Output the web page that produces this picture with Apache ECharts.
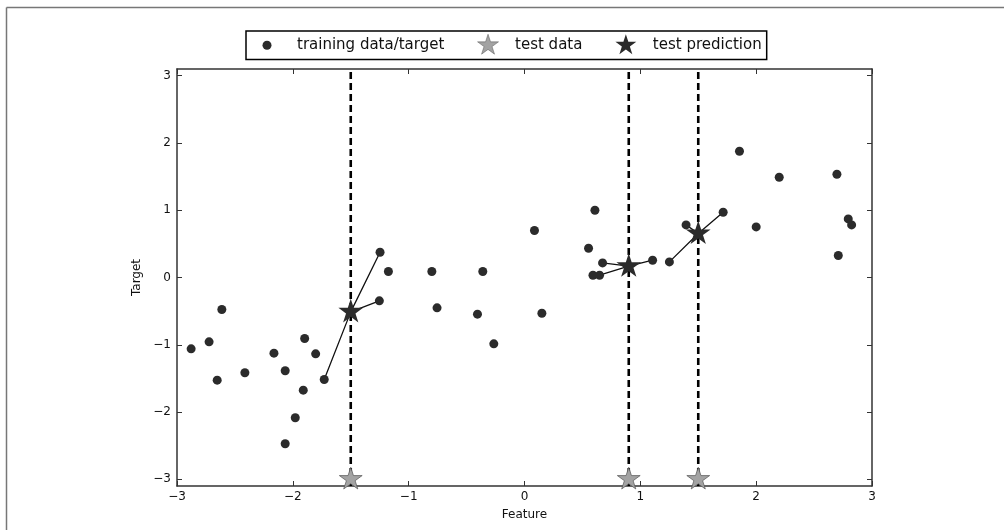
<!DOCTYPE html>
<html>
<head>
<meta charset="utf-8">
<script src="https://cdn.jsdelivr.net/npm/echarts@6/dist/echarts.min.js"></script>
<style>
html,body{margin:0;padding:0;background:#fff;}
#c{width:1004px;height:530px;}
</style>
</head>
<body>
<div id="c"></div>
<script>
// Training data (feature, target)
const trainX = [-2.878,-2.723,-2.653,-2.613,-2.414,-2.163,-2.066,-2.066,-1.979,-1.910,-1.898,-1.803,-1.729,-1.253,-1.247,-1.175,-0.800,-0.755,-0.406,-0.360,-0.265,0.086,0.150,0.553,0.591,0.608,0.648,0.674,1.106,1.251,1.395,1.715,1.856,2.000,2.199,2.697,2.709,2.795,2.824];
const trainY = [-1.061,-0.957,-1.526,-0.476,-1.417,-1.125,-1.387,-2.472,-2.086,-1.675,-0.907,-1.135,-1.516,-0.347,0.376,0.090,0.090,-0.451,-0.545,0.090,-0.986,0.698,-0.531,0.435,0.034,1.000,0.034,0.217,0.257,0.232,0.782,0.970,1.877,0.752,1.490,1.535,0.327,0.871,0.782];
// Test points and predictions
const testX = [-1.5, 0.9, 1.5];
const testY = [-3, -3, -3];
const predY = [-0.511, 0.168, 0.654];
const nNeighbors = 3;
const xTicks = [-3,-2,-1,0,1,2,3];
const yTicks = [-3,-2,-1,0,1,2,3];
const yMin = -3.1, yMax = 3.1;

const STAR = 'path://M0,-10 L2.245,-3.09 L9.511,-3.09 L3.633,1.18 L5.878,8.09 L0,3.82 L-5.878,8.09 L-3.633,1.18 L-9.511,-3.09 L-2.245,-3.09 Z M0,10';
const DOT = 'path://M0,0 M44,22 M23.5,11 A4.5,4.5 0 1 0 14.5,11 A4.5,4.5 0 1 0 23.5,11 Z';
const fmt = v => String(v).replace('-', '\u2212');

const train = trainX.map((x,i)=>[x, trainY[i]]);
const series = [];
// dashed vertical lines
testX.forEach((x,i)=>{
  series.push({type:'line', data:[[x,yMin],[x,yMax]], symbol:'none', silent:true, z:1,
    lineStyle:{color:'#000', width:2.6, type:[7,4]}});
});
// neighbor lines
testX.forEach((x,i)=>{
  const idx = trainX.map((tx,j)=>[Math.abs(tx-x), j]).sort((a,b)=>a[0]-b[0]).slice(0,nNeighbors).map(d=>d[1]);
  const p = [x, predY[i]];
  const d = [];
  idx.forEach((j,k)=>{ if(k>0) d.push(p); d.push(train[j]); if(k===0) d.push(p); });
  series.push({type:'line', data:d, symbol:'none', silent:true, z:2,
    lineStyle:{color:'#111', width:1.3}});
});
series.push({name:'training data/target', type:'scatter', data:train, symbol:'circle', symbolSize:9, z:3,
  itemStyle:{color:'#2b2b2b', opacity:1}});
series.push({name:'test data', type:'scatter', data:testX.map((x,i)=>[x,testY[i]]), symbol:STAR, symbolKeepAspect:true, symbolSize:24, z:4,
  itemStyle:{color:'#a3a3a3', borderColor:'#555', borderWidth:0.7, opacity:1}});
series.push({name:'test prediction', type:'scatter', data:testX.map((x,i)=>[x,predY[i]]), symbol:STAR, symbolKeepAspect:true, symbolSize:26, z:5,
  itemStyle:{color:'#2b2b2b', opacity:1}});

const axisLineStyle = {show:true, onZero:false, lineStyle:{color:'#333', width:1.5}};
const tickStyle = {show:true, inside:true, length:5, lineStyle:{color:'#333', width:1}};
const labelStyle = {fontFamily:'DejaVu Sans', fontSize:12, color:'#111'};

const chart = echarts.init(document.getElementById('c'), null, {renderer:'canvas'});
chart.setOption({
  animation:false,
  backgroundColor:'#fff',
  grid:{left:177, right:132, top:69, bottom:44, containLabel:false},
  legend:{
    left:246, top:31,
    data:[{name:'training data/target', icon:DOT},
          {name:'test data', icon:STAR, itemStyle:{borderWidth:0.5}},
          {name:'test prediction', icon:STAR}],
    itemWidth:44, itemHeight:22, itemGap:33, symbolKeepAspect:true,
    padding:[3,5,3,2],
    borderColor:'#000', borderWidth:1.5, backgroundColor:'#fff',
    textStyle:{fontFamily:'DejaVu Sans', fontSize:15, color:'#111'},
    selectedMode:false
  },
  xAxis:[
    {type:'value', min:xTicks[0], max:xTicks[xTicks.length-1], interval:1, position:'bottom',
     name:'Feature', nameLocation:'middle', nameGap:23, nameTextStyle:labelStyle,
     axisLine:axisLineStyle, axisTick:tickStyle, splitLine:{show:false},
     axisLabel:Object.assign({formatter:fmt, margin:5, showMinLabel:true, showMaxLabel:true}, labelStyle)},
    {type:'value', min:xTicks[0], max:xTicks[xTicks.length-1], interval:1, position:'top',
     axisLine:axisLineStyle, axisTick:tickStyle, splitLine:{show:false}, axisLabel:{show:false}}
  ],
  yAxis:[
    {type:'value', min:yMin, max:yMax, position:'left',
     name:'Target', nameLocation:'middle', nameGap:26, nameTextStyle:labelStyle,
     axisLine:axisLineStyle, axisTick:Object.assign({customValues:yTicks}, tickStyle), splitLine:{show:false},
     axisLabel:Object.assign({customValues:yTicks, formatter:fmt, margin:6}, labelStyle)},
    {type:'value', min:yMin, max:yMax, position:'right',
     axisLine:axisLineStyle, axisTick:Object.assign({customValues:yTicks}, tickStyle), splitLine:{show:false}, axisLabel:{show:false}}
  ],
  graphic:[
    {type:'line', shape:{x1:6.5, y1:7.5, x2:1004, y2:7.5}, style:{stroke:'#777', lineWidth:1.5}, silent:true},
    {type:'line', shape:{x1:6.5, y1:7.5, x2:6.5, y2:530}, style:{stroke:'#777', lineWidth:1.5}, silent:true}
  ],
  series:series
});
</script>
</body>
</html>
